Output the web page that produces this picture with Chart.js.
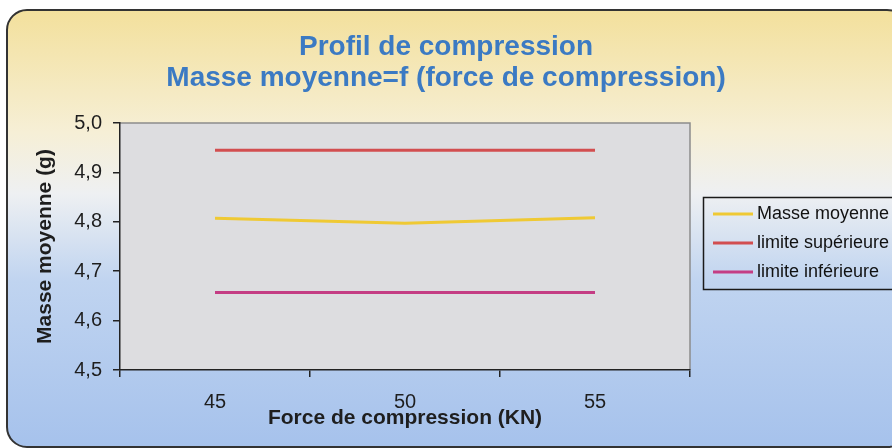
<!DOCTYPE html>
<html>
<head>
<meta charset="utf-8">
<script src="https://cdn.jsdelivr.net/npm/chart.js@4"></script>
<style>
  html, body { margin: 0; padding: 0; background: #fff; }
  canvas { display: block; }
</style>
</head>
<body>
<canvas id="massChart" width="892" height="448"></canvas>
<script>
// Compression profile: mean tablet mass vs. compression force
const forces = ['45', '50', '55'];
const masseMoyenne = [4.807, 4.797, 4.808];
const limiteSup = [4.945, 4.945, 4.945];
const limiteInf = [4.657, 4.657, 4.657];
const titleLines = ['Profil de compression', 'Masse moyenne=f (force de compression)'];
const yMin = 4.5, yMax = 5.0, yStep = 0.1;

const FONT = '"Liberation Sans", Arial, sans-serif';

// Rounded frame with the yellow-to-blue wash, plus the grey plot area
const framePlugin = {
    id: 'frame',
    beforeDraw(chart) {
        const { ctx, chartArea: a } = chart;
        ctx.save();
        const g = ctx.createLinearGradient(0, 10, 0, 447);
        g.addColorStop(0, '#F3E09C');
        g.addColorStop(0.28, '#F6EFD6');
        g.addColorStop(0.42, '#EEF0F2');
        g.addColorStop(0.62, '#C0D4F0');
        g.addColorStop(1, '#A6C2EC');
        ctx.beginPath();
        ctx.roundRect(7, 10, 900, 437, 20);
        ctx.fillStyle = g;
        ctx.fill();
        ctx.lineWidth = 2;
        ctx.strokeStyle = '#333';
        ctx.stroke();

        ctx.fillStyle = '#DDDDE0';
        ctx.fillRect(a.left, a.top, a.right - a.left, a.bottom - a.top);
        ctx.strokeStyle = '#8c8c8c';
        ctx.lineWidth = 1.5;
        ctx.beginPath();
        ctx.moveTo(a.left, a.top);
        ctx.lineTo(a.right, a.top);
        ctx.lineTo(a.right, a.bottom);
        ctx.stroke();
        ctx.restore();
    },
    afterDraw(chart) {
        const { ctx } = chart;
        ctx.save();
        // title
        ctx.fillStyle = '#3B7AC3';
        ctx.font = 'bold 28px ' + FONT;
        ctx.textAlign = 'center';
        ctx.textBaseline = 'middle';
        titleLines.forEach((t, i) => ctx.fillText(t, 446, 47 + i * 31));

        // legend box
        ctx.strokeStyle = '#1a1a1a';
        ctx.lineWidth = 1.5;
        ctx.strokeRect(703.5, 197.5, 200, 92);
        ctx.font = '18px ' + FONT;
        ctx.textAlign = 'left';
        ctx.fillStyle = '#111';
        chart.data.datasets.forEach((ds, i) => {
            const y = 214 + i * 29;
            ctx.strokeStyle = ds.borderColor;
            ctx.lineWidth = 3;
            ctx.beginPath();
            ctx.moveTo(713, y);
            ctx.lineTo(753, y);
            ctx.stroke();
            ctx.fillText(ds.label, 757, y);
        });
        ctx.restore();
    }
};

new Chart(document.getElementById('massChart'), {
    type: 'line',
    data: {
        labels: forces,
        datasets: [
            { label: 'Masse moyenne', data: masseMoyenne, borderColor: '#EFC934' },
            { label: 'limite supérieure', data: limiteSup, borderColor: '#D24E50' },
            { label: 'limite inférieure', data: limiteInf, borderColor: '#C43D84' }
        ].map(ds => Object.assign(ds, { borderWidth: 3, pointRadius: 0, tension: 0, fill: false }))
    },
    options: {
        responsive: false,
        animation: false,
        devicePixelRatio: 1,
        layout: { padding: { left: 10, top: 123, right: 202, bottom: 0 } },
        plugins: { legend: { display: false }, title: { display: false }, tooltip: { enabled: false } },
        scales: {
            x: {
                offset: true,
                grid: { offset: true, drawOnChartArea: false, tickLength: 7, color: '#222', lineWidth: 1.5 },
                border: { color: '#222', width: 1.5 },
                ticks: { color: '#1e1e1e', font: { family: FONT, size: 20 }, padding: 13 },
                title: {
                    display: true, text: 'Force de compression (KN)', color: '#1e1e1e',
                    font: { family: FONT, size: 21, weight: 'bold' }, padding: { top: 0, bottom: 17 }
                },
                afterFit(scale) { scale.height = 78; }
            },
            y: {
                min: yMin,
                max: yMax,
                grid: { drawOnChartArea: false, tickLength: 7, color: '#222', lineWidth: 1.5 },
                border: { color: '#222', width: 1.5 },
                ticks: {
                    stepSize: yStep, color: '#1e1e1e', padding: 11,
                    font: { family: FONT, size: 20 },
                    callback: v => v.toFixed(1).replace('.', ',')
                },
                title: {
                    display: true, text: 'Masse moyenne (g)', color: '#1e1e1e',
                    font: { family: FONT, size: 21, weight: 'bold' }, padding: { top: 23, bottom: 0 }
                },
                afterFit(scale) { scale.width = 110; }
            }
        }
    },
    plugins: [framePlugin]
});
</script>
</body>
</html>
